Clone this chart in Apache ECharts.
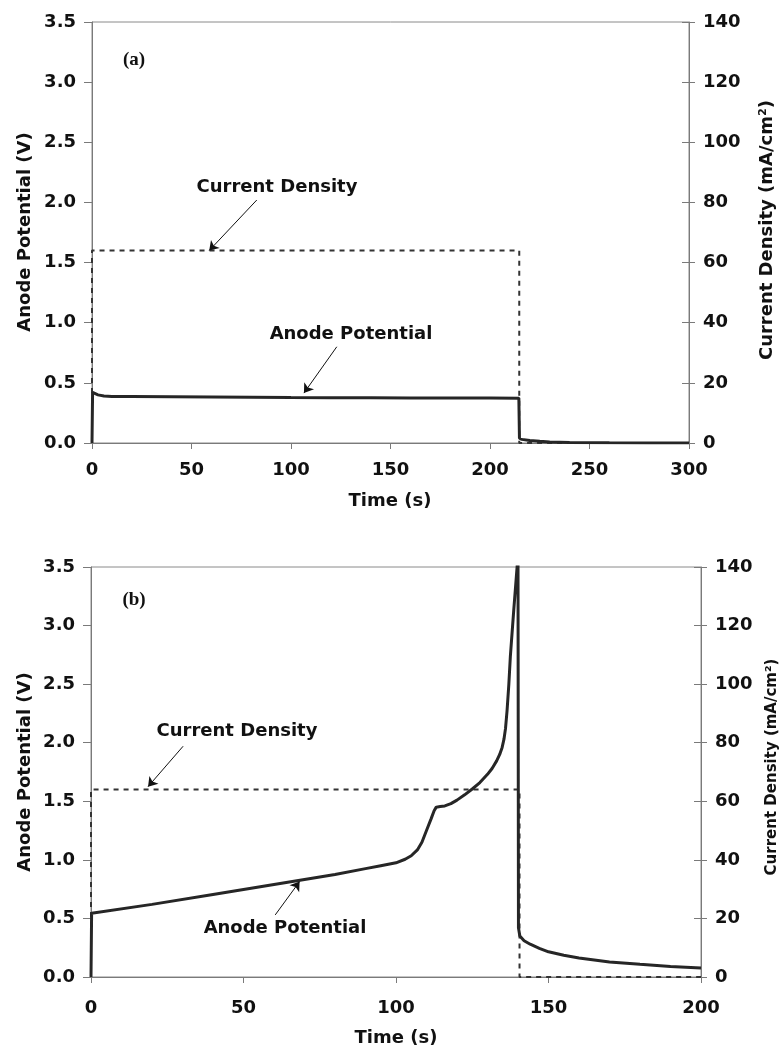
<!DOCTYPE html>
<html>
<head>
<meta charset="utf-8">
<script src="https://cdn.jsdelivr.net/npm/echarts@6/dist/echarts.min.js"></script>
<style>
html,body{margin:0;padding:0;background:#fff;}
#chart{width:781px;height:1058px;}
</style>
</head>
<body>
<div id="chart"></div>
<script>
// ---- Panel (a) data ----
const timeA_AP = [0, 0.3, 1, 3, 6, 10, 20, 40, 60, 80, 100, 120, 140, 160, 180, 200, 214.5, 214.8, 216, 220, 225, 230, 240, 260, 280, 300];
const potA     = [0, 0.42, 0.41, 0.40, 0.39, 0.386, 0.386, 0.384, 0.382, 0.380, 0.378, 0.377, 0.376, 0.375, 0.375, 0.374, 0.373, 0.04, 0.03, 0.02, 0.014, 0.009, 0.005, 0.002, 0.001, 0.0];
const timeA_CD = [0, 0, 214.7, 214.7, 300];
const cdA      = [0, 64, 64, 0, 0];

// ---- Panel (b) data ----
const timeB_AP = [0, 0.2, 20, 40, 60, 80, 90, 95, 100, 103, 105, 107, 108.5, 110, 111.5, 112.5, 113.2, 114.5, 116, 118, 120, 122.5, 125, 127.5, 130, 131.5, 133, 134, 134.8, 135.4, 135.9, 136.4, 137, 137.5, 138.6, 139.7, 140.0, 140.15, 140.6, 142, 144, 147, 150, 155, 160, 170, 180, 190, 200];
const potB     = [0, 0.545, 0.62, 0.705, 0.79, 0.875, 0.925, 0.95, 0.975, 1.005, 1.035, 1.085, 1.15, 1.25, 1.35, 1.42, 1.45, 1.455, 1.46, 1.48, 1.51, 1.555, 1.605, 1.66, 1.73, 1.78, 1.845, 1.90, 1.96, 2.03, 2.12, 2.27, 2.50, 2.74, 3.13, 3.5, 3.6, 0.42, 0.35, 0.31, 0.28, 0.245, 0.215, 0.185, 0.163, 0.128, 0.108, 0.09, 0.077];
const timeB_CD = [0, 0, 140.5, 140.5, 200];
const cdB      = [0, 64, 64, 0, 0];

// ---- ticks ----
const xTicksA = {min: 0, max: 300, interval: 50};
const xTicksB = {min: 0, max: 200, interval: 50};
const vTicks  = {min: 0, max: 3.5, interval: 0.5};
const jTicks  = {min: 0, max: 140, interval: 20};

// ---- annotation arrows (data coords, V axis) ----
const arrowsA = [[[82.8, 2.02], [58.9, 1.60]], [[123.0, 0.80], [106.5, 0.415]]];
const arrowsB = [[[30.2, 1.97], [18.7, 1.625]], [[60.4, 0.53], [68.4, 0.815]]];

const pair = (xs, ys) => xs.map((x, i) => [x, ys[i]]);

const F = '"DejaVu Sans", sans-serif';
const AX = '#7a7a7a';
const INK = '#111';

function xAxis(grid, t, margin) {
  return {
    type: 'value', gridIndex: grid, min: t.min, max: t.max, interval: t.interval,
    axisLine: {show: true, onZero: false, lineStyle: {color: AX, width: 1}},
    axisTick: {show: true, inside: false, length: 6, lineStyle: {color: AX}},
    axisLabel: {color: INK, fontFamily: F, fontWeight: 'bold', fontSize: 18, margin: margin},
    splitLine: {show: false}
  };
}
function yLeft(grid) {
  return {
    type: 'value', gridIndex: grid, position: 'left', min: vTicks.min, max: vTicks.max, interval: vTicks.interval,
    axisLine: {show: true, onZero: false, lineStyle: {color: AX, width: 1}},
    axisTick: {show: true, inside: false, length: 8, lineStyle: {color: AX}},
    axisLabel: {color: INK, fontFamily: F, fontWeight: 'bold', fontSize: 18, margin: 16, formatter: v => v.toFixed(1)},
    splitLine: {show: false}
  };
}
function yRight(grid, inside) {
  return {
    type: 'value', gridIndex: grid, position: 'right', min: jTicks.min, max: jTicks.max, interval: jTicks.interval,
    axisLine: {show: !inside, onZero: false, lineStyle: {color: AX, width: 1}},
    axisTick: {show: true, inside: inside, length: inside ? 7 : 6, lineStyle: {color: AX}},
    axisLabel: {show: !inside, color: INK, fontFamily: F, fontWeight: 'bold', fontSize: 18, margin: 14},
    splitLine: {show: false}
  };
}
function arrowMark(list) {
  return {
    silent: true, animation: false,
    symbol: ['none', 'arrow'], symbolSize: 9,
    lineStyle: {color: '#111', width: 1, type: 'solid'},
    label: {show: false},
    emphasis: {disabled: true},
    data: list.map(a => [{coord: a[0]}, {coord: a[1]}])
  };
}
function txt(x, y, text, size, opts) {
  opts = opts || {};
  return {
    type: 'text', x: x, y: y, rotation: opts.rot || 0, silent: true,
    style: {
      text: text, fill: INK, align: 'center', verticalAlign: 'middle',
      font: 'bold ' + size + 'px ' + (opts.serif ? '"Liberation Serif", serif' : F)
    }
  };
}

const chart = echarts.init(document.getElementById('chart'));
chart.setOption({
  animation: false,
  backgroundColor: '#fff',
  grid: [
    {left: 92, right: 92, top: 22, height: 421, show: true, borderColor: '#8a8a8a', borderWidth: 1, containLabel: false},
    {left: 91, right: 80, top: 567, height: 410, show: true, borderColor: '#8a8a8a', borderWidth: 1, containLabel: false}
  ],
  xAxis: [xAxis(0, xTicksA, 18), xAxis(1, xTicksB, 22)],
  yAxis: [yLeft(0), yRight(0, false), yRight(0, true), yLeft(1), yRight(1, false), yRight(1, true)],
  series: [
    {type: 'line', name: 'Current Density (a)', xAxisIndex: 0, yAxisIndex: 1, data: pair(timeA_CD, cdA),
     showSymbol: false, lineStyle: {color: '#333', width: 2, type: [5, 5]}, z: 2},
    {type: 'line', name: 'Anode Potential (a)', xAxisIndex: 0, yAxisIndex: 0, data: pair(timeA_AP, potA),
     showSymbol: false, lineStyle: {color: '#262626', width: 3}, z: 3, markLine: arrowMark(arrowsA)},
    {type: 'line', name: 'Current Density (b)', xAxisIndex: 1, yAxisIndex: 4, data: pair(timeB_CD, cdB),
     showSymbol: false, lineStyle: {color: '#333', width: 2, type: [5, 5]}, z: 2},
    {type: 'line', name: 'Anode Potential (b)', xAxisIndex: 1, yAxisIndex: 3, data: pair(timeB_AP, potB),
     showSymbol: false, lineStyle: {color: '#262626', width: 3}, z: 3, markLine: arrowMark(arrowsB)}
  ],
  graphic: [
    txt(134, 60, '(a)', 19, {serif: true}),
    txt(277, 187, 'Current Density', 18),
    txt(351, 334, 'Anode Potential', 18),
    txt(390, 501, 'Time (s)', 18),
    txt(25, 232, 'Anode Potential (V)', 18, {rot: Math.PI / 2}),
    txt(767, 230, 'Current Density (mA/cm²)', 18, {rot: Math.PI / 2}),
    txt(134, 600, '(b)', 19, {serif: true}),
    txt(237, 731, 'Current Density', 18),
    txt(285, 928, 'Anode Potential', 18),
    txt(396, 1038, 'Time (s)', 18),
    txt(25, 772, 'Anode Potential (V)', 18, {rot: Math.PI / 2}),
    txt(772, 767, 'Current Density (mA/cm²)', 15, {rot: Math.PI / 2})
  ]
});
</script>
</body>
</html>
